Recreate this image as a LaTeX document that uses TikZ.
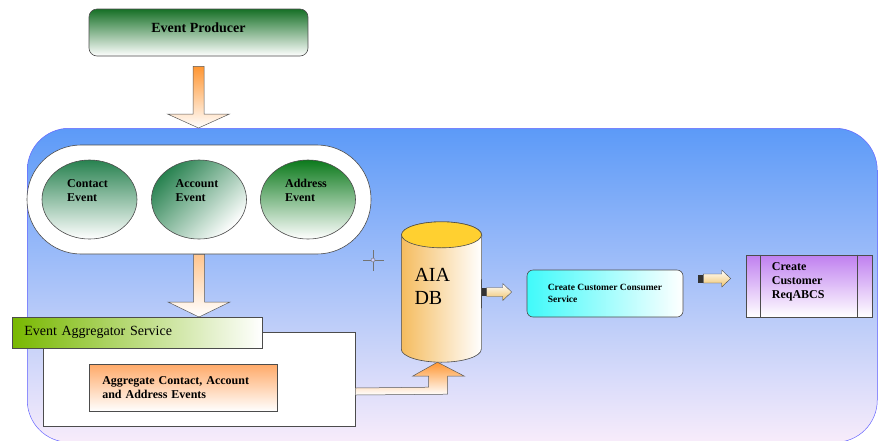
\documentclass[tikz,border=0pt]{standalone}
\usepackage{fontspec}
\setmainfont{Liberation Serif}
\usepackage{tikz}
\usetikzlibrary{shapes.geometric,positioning,calc}

\definecolor{prodGreen}{RGB}{22,112,38}
\definecolor{evGreen}{RGB}{40,130,80}
\definecolor{addrGreen}{RGB}{12,122,28}
\definecolor{zoneBlue}{RGB}{92,154,248}
\definecolor{zoneMid}{RGB}{155,198,246}
\definecolor{zonePink}{RGB}{248,236,250}
\definecolor{arrowOrange}{RGB}{255,150,50}
\definecolor{aggGreen}{RGB}{120,184,0}
\definecolor{taskOrange}{RGB}{255,170,105}
\definecolor{dbYellow}{RGB}{255,208,48}
\definecolor{dbOrange}{RGB}{245,188,95}
\definecolor{consCyan}{RGB}{64,250,250}
\definecolor{reqPurple}{RGB}{192,128,240}
\definecolor{tanArrow}{RGB}{240,195,105}

% small arrow with a dark stub, from #1 to #2
\newcommand{\stubarrow}[2]{%
  \fill[black!80] ($(#1)+(0,-4)$) rectangle ($(#1)+(5,4)$);
  \shadedraw[thinarrow] ($(#1)+(5,-4.5)$) -- ($(#2)+(-9,-4.5)$) -- ($(#2)+(-9,-8.5)$) -- (#2)
    -- ($(#2)+(-9,8.5)$) -- ($(#2)+(-9,4.5)$) -- ($(#1)+(5,4.5)$) -- cycle;}

\begin{document}
\begin{tikzpicture}[x=1pt, y=-1pt,
  every node/.style={inner sep=0pt},
  box/.style={draw=black!70, line width=0.6pt},
  evnode/.style={ellipse, box, minimum width=95pt, minimum height=79pt, top color=evGreen, bottom color=white},
  evtext/.style={font=\bfseries\fontsize{12}{14}\selectfont, align=left},
  fatarrow/.style={draw=black!65, line width=0.5pt, top color=arrowOrange, bottom color=white},
  thinarrow/.style={draw=black!70, line width=0.4pt, top color=white, bottom color=tanArrow}]
\useasboundingbox (0,0) rectangle (878,440);

% background zone
\node[draw=blue!60, line width=0.5pt, anchor=north west, minimum width=850pt, minimum height=314pt,
  rounded corners=42pt, top color=zoneBlue, middle color=zoneMid, bottom color=zonePink] (zone) at (27,128) {};

% events
\node[box, fill=white, minimum width=344pt, minimum height=109pt, rounded corners=54pt] (pill) at (199,199.5) {};
\foreach \name/\x/\lbl/\ang/\col in {contact/89.5/Contact/0/evGreen, account/199/Account/45/evGreen, address/308/Address/0/addrGreen} {
  \node[evnode, top color=\col, shading angle=\ang] (\name) at (\x,199.5) {};
  \node[evtext] (\name-t) at ($(\name)+(-2,-9)$) {\lbl\\Event};
}

\node[box, rounded corners=8pt, minimum width=219pt, minimum height=47pt, top color=prodGreen, bottom color=white,
  font=\bfseries\fontsize{14}{16}\selectfont, text depth=9pt] (prod) at (198.5,32.5) {Event Producer};

% aggregator
\node[box, fill=white, anchor=north west, minimum width=312pt, minimum height=94pt] (aggbox) at (43,332) {};
\node[box, anchor=north west, minimum width=250pt, minimum height=31pt, left color=aggGreen, middle color=aggGreen!22,
  right color=white, font=\fontsize{14}{16}\selectfont, text width=226pt, align=left] (agghead) at (12,317) {Event Aggregator Service};
\node[box, anchor=north west, minimum width=188pt, minimum height=47pt, top color=taskOrange, bottom color=white,
  font=\bfseries\fontsize{12}{14}\selectfont, text width=162pt, align=left] (aggtask) at (89,364)
  {Aggregate Contact, Account\\and Address Events};

% database
\node[minimum width=80pt, minimum height=140pt] (db) at (441.5,292) {};
\shadedraw[box, left color=dbOrange, right color=white] ($(db.north west)+(0,13)$) -- ($(db.south west)+(0,-13)$)
  arc[start angle=180, end angle=360, x radius=40pt, y radius=13pt] -- ($(db.north east)+(0,13)$)
  arc[start angle=0, end angle=180, x radius=40pt, y radius=13pt] -- cycle;
\filldraw[box, fill=dbYellow] ($(db.north)+(0,13)$) ellipse [x radius=40pt, y radius=13pt];
\node[font=\fontsize{20}{23}\selectfont, align=left, anchor=west] (dbtext) at ($(db.west)+(13,-6)$) {AIA\\DB};

% services
\node[box, rounded corners=6pt, minimum width=156pt, minimum height=47pt, left color=consCyan, right color=white,
  font=\bfseries\fontsize{9.5}{12}\selectfont, align=left] (cons) at (605,293.5) {Create Customer Consumer\\Service};
\node[box, minimum width=126pt, minimum height=62pt, top color=reqPurple, bottom color=white] (req) at (809,286) {};
\draw[box] ($(req.north west)+(15,0)$) -- ($(req.south west)+(15,0)$);
\draw[box] ($(req.north east)+(-15,0)$) -- ($(req.south east)+(-15,0)$);
\node[font=\bfseries\fontsize{12}{14}\selectfont, align=left, anchor=west] (req-t) at ($(req.west)+(26,-4)$)
  {Create\\Customer\\ReqABCS};

% block arrows
\coordinate (a1s) at ($(prod.south)+(0,10)$);
\coordinate (a1t) at (a1s |- zone.north);
\shadedraw[fatarrow] ($(a1s)+(-5.5,0)$) -- ($(a1t)+(-5.5,-14)$) -- ($(a1t)+(-31,-14)$) -- (a1t)
  -- ($(a1t)+(31,-14)$) -- ($(a1t)+(5.5,-14)$) -- ($(a1s)+(5.5,0)$) -- cycle;

\coordinate (a2s) at (pill.south);
\coordinate (a2t) at (pill.south |- agghead.north);
\shadedraw[fatarrow, top color=arrowOrange!55] ($(a2s)+(-5.5,0)$) -- ($(a2t)+(-5.5,-15)$) -- ($(a2t)+(-31,-15)$) -- (a2t)
  -- ($(a2t)+(31,-15)$) -- ($(a2t)+(5.5,-15)$) -- ($(a2s)+(5.5,0)$) -- cycle;

\coordinate (uptip) at ($(db.south)+(-4,0)$);
\shadedraw[fatarrow] (aggbox.east |- 0,388) -- ($(uptip)+(-9,25)$) -- ($(uptip)+(-9,14)$) -- ($(uptip)+(-25,14)$) -- (uptip)
  -- ($(uptip)+(27,14)$) -- ($(uptip)+(10,14)$) -- ($(uptip)+(10,32)$) -- (aggbox.east |- 0,395) -- cycle;

\coordinate (a3s) at (db.east);
\coordinate (a3t) at ($(db.east -| cons.west)+(-15,0)$);
\stubarrow{a3s}{a3t}
\coordinate (a4s) at ($(cons.east)+(15,-15)$);
\coordinate (a4t) at ($(a4s -| req.west)+(-15,0)$);
\stubarrow{a4s}{a4t}

% cross mark
\draw[black!55, line width=0.6pt] (363,260) -- (384,260) (373,250) -- (373,271);
\draw[black!55, fill=blue!20] (373,260) circle[radius=2pt];
\end{tikzpicture}
\end{document}
